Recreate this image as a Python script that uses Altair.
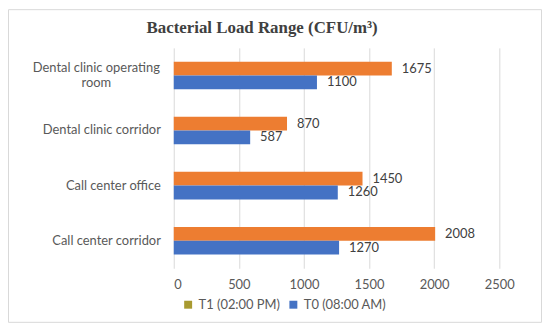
import altair as alt
import pandas as pd

categories = ["Dental clinic operating room", "Dental clinic corridor",
              "Call center office", "Call center corridor"]
category_lines = ["Dental clinic operating\nroom", "Dental clinic corridor",
                  "Call center office", "Call center corridor"]
t0_values = [1100, 587, 1260, 1270]
t1_values = [1675, 870, 1450, 2008]
series = ["T1 (02:00 PM)", "T0 (08:00 AM)"]
x_ticks = [0, 500, 1000, 1500, 2000, 2500]
title_text = "Bacterial Load Range (CFU/m³)"

rows = []
for c, v0, v1 in zip(categories, t0_values, t1_values):
    rows.append({"category": c, "series": series[0], "value": v1})
    rows.append({"category": c, "series": series[1], "value": v0})
df = pd.DataFrame(rows)
cat_df = pd.DataFrame({"category": categories, "label": category_lines,
                       "wrapped": ["\n" in s for s in category_lines]})

W, H = 341, 222
FONT = "Lato"

y_scale = alt.Scale(paddingInner=0.5, paddingOuter=0.25)
y_enc = alt.Y("category:N", sort=categories, scale=y_scale,
              axis=alt.Axis(title=None, ticks=False, domain=False, labels=False,
                            minExtent=167, maxExtent=167))
x_enc = alt.X("value:Q", scale=alt.Scale(domain=[0, 2500]),
              axis=alt.Axis(title=None, values=x_ticks, ticks=False, domain=False,
                            grid=True, gridColor="#D9D9D9", format="d",
                            labelFont=FONT, labelFontSize=13, labelColor="#595959",
                            labelPadding=10))

bars = alt.Chart(df).mark_bar().encode(
    y=y_enc,
    x=x_enc,
    yOffset=alt.YOffset("series:N", sort=series),
    color=alt.Color("series:N", sort=series,
                    scale=alt.Scale(domain=series, range=["#ED7D31", "#4472C4"]),
                    legend=None),
)

legend_layer = alt.Chart(df).mark_point(filled=True, opacity=0).encode(
    y=alt.Y("category:N", sort=categories),
    x=alt.X("value:Q"),
    color=alt.Color("series:N", sort=series,
                    scale=alt.Scale(domain=series, range=["#A89A30", "#4472C4"]),
                    legend=alt.Legend(title=None, orient="none", legendX=8, legendY=252,
                                      direction="horizontal", symbolType="square",
                                      symbolSize=64, symbolOpacity=1, symbolStrokeWidth=0,
                                      labelFont=FONT, labelFontSize=13,
                                      labelColor="#595959", columnPadding=6,
                                      padding=0, labelOffset=4)),
)

values_text = alt.Chart(df).mark_text(align="left", baseline="middle", dx=10,
                                      font=FONT, fontSize=13, color="#404040").encode(
    y=alt.Y("category:N", sort=categories),
    x=alt.X("value:Q"),
    yOffset=alt.YOffset("series:N", sort=series),
    text=alt.Text("value:Q", format="d"),
)

cat_right = alt.Chart(cat_df).transform_filter("!datum.wrapped").mark_text(
    align="right", baseline="middle", font=FONT, fontSize=13, color="#595959").encode(
    y=alt.Y("category:N", sort=categories),
    x=alt.value(-13),
    text="label:N",
)
cat_center = alt.Chart(cat_df).transform_filter("datum.wrapped").mark_text(
    align="center", baseline="middle", font=FONT, fontSize=13, color="#595959",
    lineBreak="\n", lineHeight=15, dy=-7).encode(
    y=alt.Y("category:N", sort=categories),
    x=alt.value(-78),
    text="label:N",
)

title = alt.Chart(pd.DataFrame({"t": [title_text]})).mark_text(
    align="center", baseline="middle", font="Liberation Serif", fontSize=17,
    fontWeight="bold", color="#404040").encode(
    x=alt.value(89), y=alt.value(-20), text="t:N")

border = alt.Chart(pd.DataFrame({"a": [0]})).mark_rect(
    fill=None, stroke="#D9D9D9", strokeWidth=1).encode(
    x=alt.value(-166.5), x2=alt.value(370.5),
    y=alt.value(-38.5), y2=alt.value(276.5),
)

chart = alt.layer(border, bars, legend_layer, values_text, cat_right, cat_center, title).resolve_scale(
    color="independent"
).properties(
    width=W, height=H,
    padding=0,
).configure_view(stroke=None)

chart.save("out.html", embed_options={"renderer": "svg", "actions": False})
